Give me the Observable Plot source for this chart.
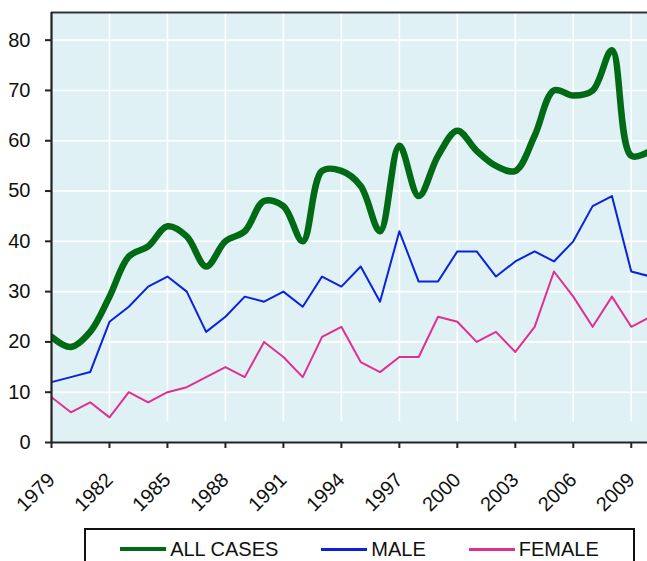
<!DOCTYPE html>
<html>
<head>
<meta charset="utf-8">
<script src="https://cdn.jsdelivr.net/npm/d3@7"></script>
<script src="https://cdn.jsdelivr.net/npm/@observablehq/plot@0.6"></script>
<style>
  html, body { margin: 0; padding: 0; background: #fff; }
  #wrap { position: relative; width: 647px; height: 561px; overflow: hidden; font-family: "Liberation Sans", Arial, sans-serif; }
  #legend { position: absolute; left: 84px; top: 528px; height: 44px; border: 2px solid #111;
            display: flex; justify-content: center; align-items: flex-start; gap: 43px; padding-top: 7px; box-sizing: border-box; width: 551px; }
  .item { display: flex; align-items: center; font-size: 20px; line-height: 24px; color: #111; }
  .swatch { width: 46px; margin-right: 4px; }
</style>
</head>
<body>
<div id="wrap">
  <div id="chart"></div>
  <div id="legend"></div>
</div>
<script>
const years = [1979,1980,1981,1982,1983,1984,1985,1986,1987,1988,1989,1990,1991,1992,1993,1994,1995,1996,1997,1998,1999,2000,2001,2002,2003,2004,2005,2006,2007,2008,2009,2010];
const allCases = [21,19,22,29,37,39,43,41,35,40,42,48,47,40,54,54,51,42,59,49,57,62,58,55,54,61,70,69,70,78,57,58];
const male     = [12,13,14,24,27,31,33,30,22,25,29,28,30,27,33,31,35,28,42,32,32,38,38,33,36,38,36,40,47,49,34,33];
const female   = [9,6,8,5,10,8,10,11,13,15,13,20,17,13,21,23,16,14,17,17,25,24,20,22,18,23,34,29,23,29,23,25];
const xTicks = [1979,1982,1985,1988,1991,1994,1997,2000,2003,2006,2009];
const yTicks = [0,10,20,30,40,50,60,70,80];
const seriesNames = ["ALL CASES","MALE","FEMALE"];
const seriesColors = ["#006b14","#0a22dc","#e0308f"];

const xMax = 2009.84;
const yMax = 85.5;

const rows = (vals) => years.map((y, i) => ({year: y, value: vals[i]}));

const plot = Plot.plot({
  width: 647,
  height: 520,
  marginLeft: 51,
  marginRight: 0,
  marginTop: 12,
  marginBottom: 78,
  style: {fontFamily: "'Liberation Sans', Arial, sans-serif", fontSize: "20px", color: "#111", background: "transparent"},
  x: {domain: [1979, xMax], label: null},
  y: {domain: [0, yMax], label: null},
  marks: [
    Plot.frame({fill: "#dff1f5", stroke: null}),
    Plot.ruleY(yTicks.filter(d => d > 0), {stroke: "#ffffff", strokeWidth: 1.6}),
    Plot.ruleX(xTicks.filter(d => d > 1979), {y1: 4.2, y2: yMax, stroke: "#ffffff", strokeWidth: 1.6}),
    Plot.line(rows(female), {x: "year", y: "value", stroke: seriesColors[2], strokeWidth: 2, clip: true}),
    Plot.line(rows(male), {x: "year", y: "value", stroke: seriesColors[1], strokeWidth: 2, clip: true}),
    Plot.line(rows(allCases), {x: "year", y: "value", stroke: seriesColors[0], strokeWidth: 6.5, curve: "catmull-rom", clip: true}),
    Plot.ruleY([yMax], {stroke: "#333", strokeWidth: 2}),
    Plot.ruleY([0], {stroke: "#222", strokeWidth: 2.2}),
    Plot.ruleX([1979], {stroke: "#222", strokeWidth: 2.2}),
    Plot.axisY({ticks: yTicks, tickSize: 6, tickPadding: 15, stroke: "#222", strokeWidth: 2, tickFormat: d => String(d)}),
    Plot.axisX({ticks: xTicks, tickSize: 6, tickPadding: 28, tickRotate: -45, stroke: "#222", strokeWidth: 2, tickFormat: d => String(d)})
  ]
});
document.getElementById("chart").appendChild(plot);

const legend = document.getElementById("legend");
seriesNames.forEach((name, i) => {
  const item = document.createElement("div");
  item.className = "item";
  const sw = document.createElement("div");
  sw.className = "swatch";
  sw.style.height = i === 0 ? "4px" : "3px";
  sw.style.background = seriesColors[i];
  const t = document.createElement("span");
  t.textContent = name;
  item.appendChild(sw);
  item.appendChild(t);
  legend.appendChild(item);
});
</script>
</body>
</html>
